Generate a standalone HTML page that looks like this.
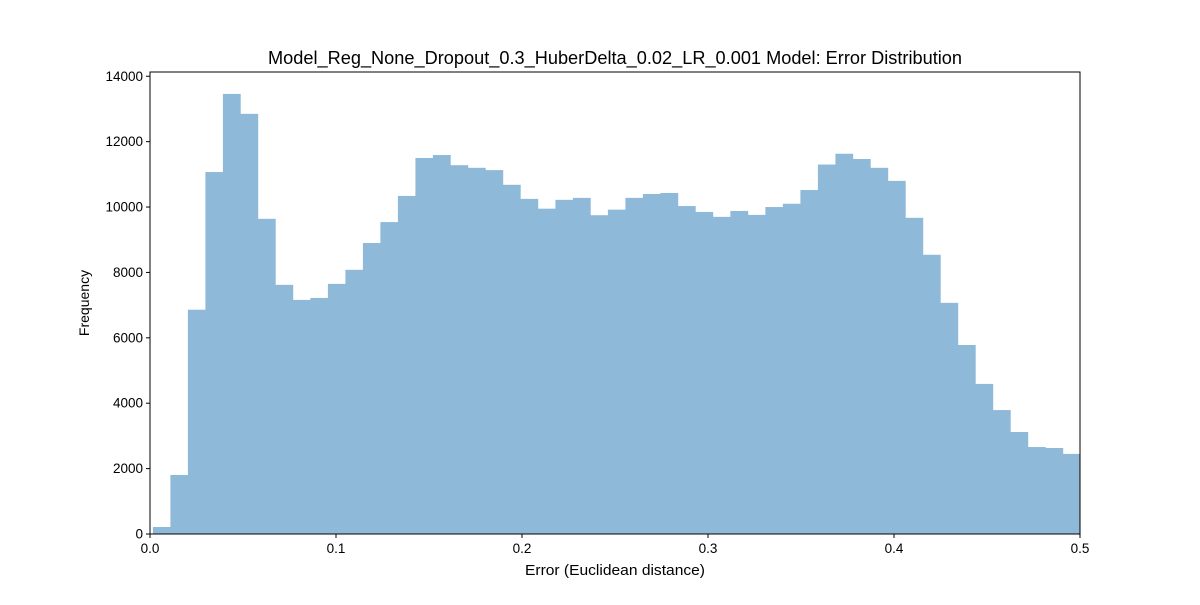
<!DOCTYPE html>
<html><head><meta charset="utf-8"><style>
body{margin:0;background:#fff}
svg text{font-family:"Liberation Sans",sans-serif;fill:#000}
</style></head><body>
<svg id="chart" width="1200" height="600">
<defs><clipPath id="pc"><rect x="150" y="72" width="930" height="462"/></clipPath></defs>
<text x="615" y="64" font-size="18" text-anchor="middle" textLength="694" lengthAdjust="spacingAndGlyphs">Model_Reg_None_Dropout_0.3_HuberDelta_0.02_LR_0.001 Model: Error Distribution</text>
<g id="bars" clip-path="url(#pc)"></g>
<g id="axes"></g>
<text x="615" y="575" font-size="14.5" text-anchor="middle" textLength="180" lengthAdjust="spacingAndGlyphs">Error (Euclidean distance)</text>
<text transform="translate(89,303) rotate(-90)" font-size="14" text-anchor="middle">Frequency</text>
</svg>
<script>
const binStart = 0.00156;
const binWidth = 0.0094086;
const counts = [214,1805,6860,11070,13460,12850,9640,7620,7160,7220,7650,8080,8900,9540,10340,11500,11590,11280,11200,11130,10680,10250,9950,10220,10280,9750,9920,10280,10400,10430,10030,9850,9700,9880,9760,10000,10100,10520,11300,11630,11470,11200,10800,9670,8540,7070,5780,4590,3790,3120,2660,2630,2450];
const xTicks = [0,0.1,0.2,0.3,0.4,0.5];
const xTickLabels = ["0.0","0.1","0.2","0.3","0.4","0.5"];
const yTicks = [0,2000,4000,6000,8000,10000,12000,14000];
const L=150,R=1080,T=72,B=534,XMAX=0.5,YMAX=14130;
const xs=v=>L+(v/XMAX)*(R-L);
const ys=v=>B-(v/YMAX)*(B-T);
const NS="http://www.w3.org/2000/svg";
const bars=document.getElementById('bars');
counts.forEach((c,i)=>{
  const r=document.createElementNS(NS,'rect');
  const x0=xs(binStart+i*binWidth), x1=xs(binStart+(i+1)*binWidth);
  r.setAttribute('x',x0);r.setAttribute('width',x1-x0+0.3);
  r.setAttribute('y',ys(c));r.setAttribute('height',B-ys(c));
  r.setAttribute('fill','#8fb9d9');
  
  
  bars.appendChild(r);
});
const ax=document.getElementById('axes');
const frame=document.createElementNS(NS,'rect');
frame.setAttribute('x',L);frame.setAttribute('y',T);frame.setAttribute('width',R-L);frame.setAttribute('height',B-T);
frame.setAttribute('fill','none');frame.setAttribute('stroke','#000');frame.setAttribute('stroke-width','1');


ax.appendChild(frame);
xTicks.forEach((v,i)=>{
  const l=document.createElementNS(NS,'line');
  l.setAttribute('x1',xs(v));l.setAttribute('x2',xs(v));l.setAttribute('y1',B);l.setAttribute('y2',B+4);l.setAttribute('stroke','#000');
  
  
  ax.appendChild(l);
  const t=document.createElementNS(NS,'text');
  t.setAttribute('x',xs(v));t.setAttribute('y',B+19);t.setAttribute('font-size','13.5');t.setAttribute('text-anchor','middle');
  t.textContent=xTickLabels[i];
  
  
  ax.appendChild(t);
});
yTicks.forEach(v=>{
  const l=document.createElementNS(NS,'line');
  l.setAttribute('x1',L-4);l.setAttribute('x2',L);l.setAttribute('y1',ys(v));l.setAttribute('y2',ys(v));l.setAttribute('stroke','#000');
  
  
  ax.appendChild(l);
  const t=document.createElementNS(NS,'text');
  t.setAttribute('x',L-7);t.setAttribute('y',ys(v)+4.5);t.setAttribute('font-size','13.5');t.setAttribute('text-anchor','end');
  t.textContent=String(v);
  
  
  ax.appendChild(t);
});
</script>
</body></html>
